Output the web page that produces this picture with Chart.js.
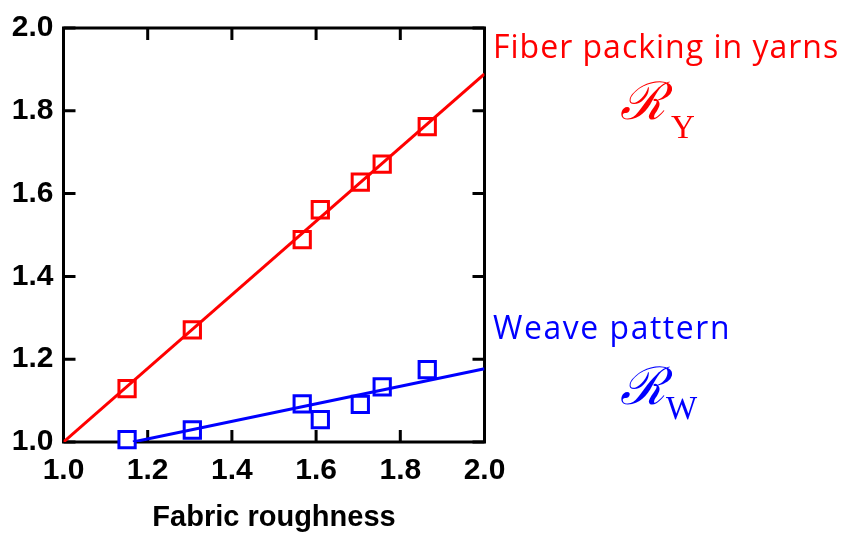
<!DOCTYPE html>
<html>
<head>
<meta charset="utf-8">
<script src="https://cdn.jsdelivr.net/npm/chart.js@4"></script>
<style>
  body { margin: 0; background: #fff; }
  #wrap { width: 846px; height: 537px; }
</style>
</head>
<body>
<div id="wrap"><canvas id="roughChart" width="846" height="537"></canvas></div>
<script>
// measured points
const roughness = [1.151, 1.306, 1.567, 1.610, 1.705, 1.757, 1.864];
const packingY = [1.129, 1.271, 1.489, 1.561, 1.628, 1.671, 1.762];
const weaveW = [1.006, 1.029, 1.092, 1.054, 1.091, 1.133, 1.175];

// fitted lines (end points)
const packingFitX = [1.0, 2.0];
const packingFitY = [1.0, 1.889];
const weaveFitX = [1.165, 2.0];
const weaveFitY = [1.0, 1.177];

const axisTicks = [1.0, 1.2, 1.4, 1.6, 1.8, 2.0];

const RED = "#ff0000";
const BLUE = "#0000ff";

const toXY = (xs, ys) => xs.map((x, i) => ({ x: x, y: ys[i] }));

// tick digits in the original are tall and tightly set
const spacingPlugin = {
  id: "spacing",
  beforeInit(chart) { chart.ctx.letterSpacing = "-1.5px"; }
};

// frame with inward ticks on all four sides
const framePlugin = {
  id: "frame",
  beforeDatasetsDraw(chart) {
    const { ctx, chartArea: a, scales } = chart;
    const len = 12;
    ctx.save();
    ctx.strokeStyle = "#000";
    ctx.lineWidth = 3;
    ctx.lineCap = "butt";
    ctx.strokeRect(a.left, a.top, a.right - a.left, a.bottom - a.top);
    ctx.beginPath();
    axisTicks.forEach(v => {
      const px = scales.x.getPixelForValue(v);
      ctx.moveTo(px, a.bottom); ctx.lineTo(px, a.bottom - len);
      ctx.moveTo(px, a.top); ctx.lineTo(px, a.top + len);
      const py = scales.y.getPixelForValue(v);
      ctx.moveTo(a.left, py); ctx.lineTo(a.left + len, py);
      ctx.moveTo(a.right, py); ctx.lineTo(a.right - len, py);
    });
    ctx.stroke();
    ctx.restore();
  }
};

// series labels to the right of the plot
const labelPlugin = {
  id: "labels",
  afterDraw(chart) {
    const ctx = chart.ctx;
    ctx.save();
    ctx.textBaseline = "alphabetic";
    ctx.textAlign = "left";

    ctx.font = "32px 'Open Sans'";
    ctx.letterSpacing = "1px";
    ctx.fillStyle = RED;
    ctx.fillText("Fiber packing in yarns", 493, 58, 348);
    ctx.letterSpacing = "1.6px";
    ctx.fillStyle = BLUE;
    ctx.fillText("Weave pattern", 493, 339, 238);
    ctx.letterSpacing = "0px";

    ctx.font = "italic 52px 'DejaVu Serif'";
    ctx.fillStyle = RED;
    ctx.fillText("\u211B", 620, 119);
    ctx.fillStyle = BLUE;
    ctx.fillText("\u211B", 620, 404);

    ctx.font = "33px 'Liberation Serif'";
    ctx.fillStyle = RED;
    ctx.fillText("Y", 671, 138);
    ctx.fillStyle = BLUE;
    ctx.fillText("W", 666, 419);
    ctx.restore();
  }
};

const tickFont = { family: "'Liberation Sans', Arial, sans-serif", size: 30, weight: "bold" };

const axisOpts = (extra) => Object.assign({
  type: "linear",
  min: 1.0,
  max: 2.0,
  afterBuildTicks: s => { s.ticks = axisTicks.map(v => ({ value: v })); },
  grid: { display: false, drawTicks: false },
  border: { display: false }
}, extra);

new Chart(document.getElementById("roughChart"), {
  type: "scatter",
  data: {
    datasets: [
      {
        label: "fit Y",
        data: toXY(packingFitX, packingFitY),
        showLine: true,
        borderColor: RED,
        borderWidth: 3,
        pointRadius: 0
      },
      {
        label: "fit W",
        data: toXY(weaveFitX, weaveFitY),
        showLine: true,
        borderColor: BLUE,
        borderWidth: 3,
        pointRadius: 0
      },
      {
        label: "Fiber packing in yarns",
        data: toXY(roughness, packingY),
        pointStyle: "rect",
        pointRadius: 11.5,
        pointBorderWidth: 3,
        pointBorderColor: RED,
        pointBackgroundColor: "#fff",
        clip: false
      },
      {
        label: "Weave pattern",
        data: toXY(roughness, weaveW),
        pointStyle: "rect",
        pointRadius: 11.5,
        pointBorderWidth: 3,
        pointBorderColor: BLUE,
        pointBackgroundColor: "#fff",
        clip: false
      }
    ]
  },
  options: {
    responsive: false,
    animation: false,
    devicePixelRatio: 1,
    layout: { padding: { top: 20.5, right: 361.5, bottom: 0, left: 0 } },
    plugins: {
      legend: { display: false },
      tooltip: { enabled: false }
    },
    scales: {
      x: axisOpts({
        position: "bottom",
        afterFit: s => { s.height = 95; },
        ticks: { color: "#000", font: tickFont, padding: 11, maxRotation: 0, callback: v => v.toFixed(1) },
        title: {
          display: true,
          text: "Fabric roughness",
          color: "#000",
          font: { family: "'Liberation Sans', Arial, sans-serif", size: 29, weight: "bold" },
          padding: { top: 0, bottom: 2 }
        }
      }),
      y: axisOpts({
        position: "left",
        afterFit: s => { s.width = 63.5; },
        ticks: { color: "#000", font: tickFont, padding: 10, callback: v => v.toFixed(1) }
      })
    }
  },
  plugins: [spacingPlugin, framePlugin, labelPlugin]
});
</script>
</body>
</html>
